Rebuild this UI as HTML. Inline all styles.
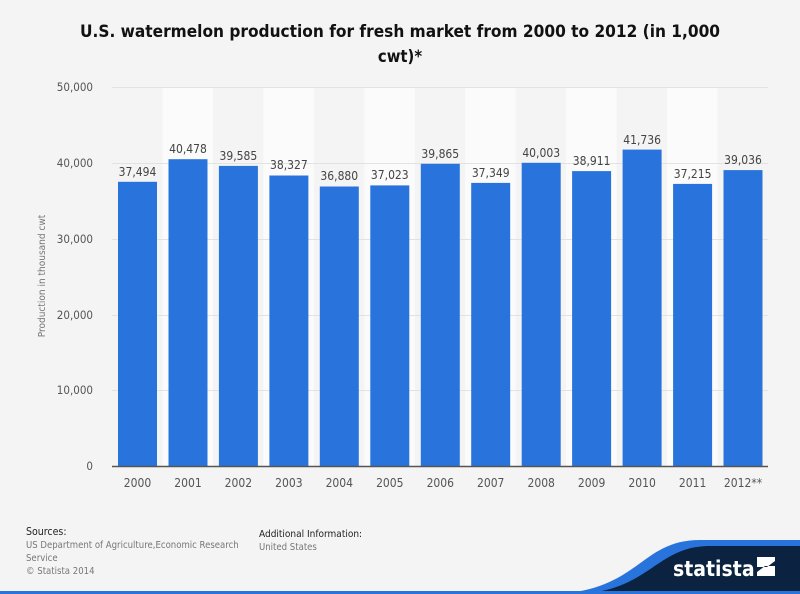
<!DOCTYPE html>
<html><head><meta charset="utf-8"><style>
body{margin:0;background:#f4f4f4;}
svg{display:block;font-family:"DejaVu Sans Condensed","DejaVu Sans","Liberation Sans",sans-serif;font-stretch:condensed;}
</style></head><body>
<svg width="800" height="594" viewBox="0 0 800 594">
<rect width="800" height="594" fill="#f4f4f4"/>
<text x="400" y="37" text-anchor="middle" font-size="16.5" font-weight="bold" fill="#111" textLength="640" lengthAdjust="spacingAndGlyphs">U.S. watermelon production for fresh market from 2000 to 2012 (in 1,000</text>
<text x="400" y="62" text-anchor="middle" font-size="16.5" font-weight="bold" fill="#111">cwt)*</text>
<g fill="#fbfbfb">
<rect x="162.5" y="87" width="50.5" height="379"/>
<rect x="263.4" y="87" width="50.5" height="379"/>
<rect x="364.3" y="87" width="50.5" height="379"/>
<rect x="465.2" y="87" width="50.5" height="379"/>
<rect x="566.1" y="87" width="50.5" height="379"/>
<rect x="667" y="87" width="50.5" height="379"/>
</g>
<g stroke="#e2e2e2" stroke-width="1">
<line x1="112" y1="87.5" x2="768" y2="87.5"/>
<line x1="112" y1="163.5" x2="768" y2="163.5"/>
<line x1="112" y1="239.5" x2="768" y2="239.5"/>
<line x1="112" y1="315.5" x2="768" y2="315.5"/>
<line x1="112" y1="390.5" x2="768" y2="390.5"/>
</g>
<g font-size="11.5" fill="#555" text-anchor="end">
<text x="93" y="91">50,000</text><text x="93" y="167">40,000</text><text x="93" y="243">30,000</text>
<text x="93" y="319">20,000</text><text x="93" y="394">10,000</text><text x="93" y="470">0</text>
</g>
<text transform="translate(45,276) rotate(-90)" text-anchor="middle" font-size="10" fill="#777">Production in thousand cwt</text>
<g fill="#2874dc">
<rect x="118" y="181.8" width="39" height="284.2"/>
<rect x="168.5" y="159.2" width="39" height="306.8"/>
<rect x="218.9" y="165.9" width="39" height="300.1"/>
<rect x="269.4" y="175.5" width="39" height="290.5"/>
<rect x="319.8" y="186.5" width="39" height="279.5"/>
<rect x="370.3" y="185.4" width="39" height="280.6"/>
<rect x="420.8" y="163.8" width="39" height="302.2"/>
<rect x="471.2" y="182.9" width="39" height="283.1"/>
<rect x="521.7" y="162.8" width="39" height="303.2"/>
<rect x="572.1" y="171.1" width="39" height="294.9"/>
<rect x="622.6" y="149.6" width="39" height="316.4"/>
<rect x="673.1" y="183.9" width="39" height="282.1"/>
<rect x="723.5" y="170.1" width="39" height="295.9"/>
</g>
<line x1="112" y1="466.5" x2="768" y2="466.5" stroke="#555" stroke-width="1.5"/>
<g font-size="12" fill="#444" text-anchor="middle">
<text x="137.5" y="176">37,494</text><text x="188" y="153">40,478</text><text x="238.4" y="160">39,585</text>
<text x="288.9" y="169">38,327</text><text x="339.3" y="180">36,880</text><text x="389.8" y="179">37,023</text>
<text x="440.3" y="158">39,865</text><text x="490.7" y="177">37,349</text><text x="541.2" y="157">40,003</text>
<text x="591.6" y="165">38,911</text><text x="642.1" y="144">41,736</text><text x="692.6" y="178">37,215</text>
<text x="743" y="164">39,036</text>
</g>
<g font-size="12" fill="#555" text-anchor="middle">
<text x="137.5" y="487">2000</text><text x="188" y="487">2001</text><text x="238.4" y="487">2002</text>
<text x="288.9" y="487">2003</text><text x="339.3" y="487">2004</text><text x="389.8" y="487">2005</text>
<text x="440.3" y="487">2006</text><text x="490.7" y="487">2007</text><text x="541.2" y="487">2008</text>
<text x="591.6" y="487">2009</text><text x="642.1" y="487">2010</text><text x="692.6" y="487">2011</text>
<text x="743" y="487">2012**</text>
</g>
<text x="26" y="535" font-size="10.5" fill="#222">Sources:</text>
<text x="26" y="548" font-size="9.5" fill="#777">US Department of Agriculture,Economic Research</text>
<text x="26" y="561" font-size="9.5" fill="#777">Service</text>
<text x="26" y="574" font-size="9.5" fill="#777">© Statista 2014</text>
<text x="259" y="537" font-size="10" fill="#222">Additional Information:</text>
<text x="259" y="550" font-size="9.5" fill="#777">United States</text>
<path d="M555,594 C640,590 640,540 700,540 L800,540 L800,594 Z" fill="#2874dc"/>
<path d="M575,594 C650,592 655,546 710,546 L800,546 L800,594 Z" fill="#0b2340"/>
<rect x="0" y="591" width="800" height="3" fill="#2874dc"/>
<text x="673" y="576" font-size="21" font-weight="bold" fill="#fff" font-family="DejaVu Sans Condensed,Liberation Sans,sans-serif">statista</text>
<rect x="757" y="557" width="18" height="19" fill="#fff"/>
<path d="M757,572 L765,566 L775,566 L775,561 L767,567 L757,567 Z" fill="#0b2340"/>
</svg>
</body></html>
